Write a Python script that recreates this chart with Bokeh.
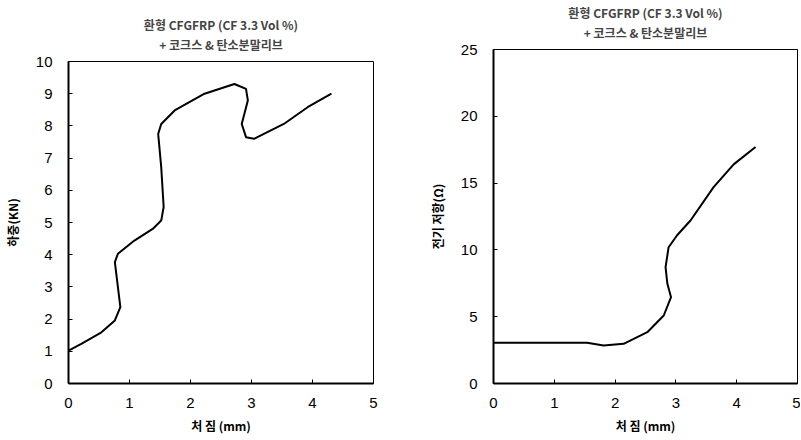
from bokeh.plotting import figure
from bokeh.layouts import row
from bokeh.models import Range1d, SingleIntervalTicker, Title
from bokeh.embed import file_html
from bokeh.resources import INLINE

# Load vs deflection (left)
defl_load = [0.0, 0.21, 0.54, 0.76, 0.85, 0.81, 0.76, 0.81, 1.08, 1.38, 1.52, 1.56,
             1.52, 1.47, 1.52, 1.74, 2.23, 2.72, 2.91, 2.94, 2.84, 2.91, 3.04, 3.53,
             3.92, 4.31]
load_kn = [1.02, 1.23, 1.59, 1.96, 2.37, 2.99, 3.77, 4.03, 4.44, 4.80, 5.06, 5.48,
           6.72, 7.75, 8.06, 8.48, 9.00, 9.30, 9.15, 8.79, 8.06, 7.65, 7.60, 8.06,
           8.58, 9.00]

# Resistance vs deflection (right)
defl_res = [0.0, 1.54, 1.81, 2.14, 2.53, 2.80, 2.92, 2.86, 2.83, 2.88, 3.02, 3.24,
            3.62, 3.95, 4.31]
resist = [3.05, 3.05, 2.84, 2.97, 3.84, 5.09, 6.46, 7.46, 8.71, 10.2, 11.1, 12.2,
          14.7, 16.4, 17.7]

title_line1 = "환형 CFGFRP (CF 3.3 Vol %)"
title_line2 = "+ 코크스 & 탄소분말리브"
x_label = "처 짐 (mm)"
y_label_left = "하중(KN)"
y_label_right = "전기 저항(Ω)"

KFONT = "Noto Sans CJK KR"
NFONT = "Liberation Sans"


def make_fig(ymax, interval, ylabel, width, border_top, border_left, border_right,
             xs, ys, lbl_standoff):
    height = 440
    p = figure(width=width, height=height,
               min_border_left=border_left, min_border_right=border_right,
               min_border_top=border_top, min_border_bottom=57,
               x_range=Range1d(0, 5), y_range=Range1d(0, ymax),
               output_backend="svg", toolbar_location=None,
               frame_align=False)
    p.add_layout(Title(text=title_line2, align="center", text_font=KFONT,
                       text_font_size="12px", text_font_style="bold",
                       standoff=18, offset=0), "above")
    p.add_layout(Title(text=title_line1, align="center", text_font=KFONT,
                       text_font_size="12px", text_font_style="bold",
                       standoff=-16, offset=0), "above")
    p.grid.visible = False
    p.outline_line_color = "black"
    p.outline_line_width = 1
    p.background_fill_color = "white"
    p.border_fill_color = "white"

    p.xaxis.ticker = SingleIntervalTicker(interval=1)
    p.yaxis.ticker = SingleIntervalTicker(interval=interval)
    for ax in (p.xaxis, p.yaxis):
        ax.axis_line_width = 2
        ax.axis_line_color = "black"
        ax.major_tick_in = 4
        ax.major_tick_out = 0
        ax.minor_tick_line_color = None
        ax.major_tick_line_width = 1
        ax.major_label_text_font = NFONT
        ax.major_label_text_font_size = "15px"
        ax.major_label_text_color = "black"
        ax.axis_label_text_font = KFONT
        ax.axis_label_text_font_size = "12px"
        ax.axis_label_text_font_style = "bold"
        ax.axis_label_text_color = "black"
    p.xaxis.axis_label = x_label
    p.yaxis.axis_label = ylabel
    p.xaxis.major_label_standoff = 10
    p.xaxis.axis_label_standoff = 6
    p.yaxis.major_label_standoff = 12
    p.yaxis.axis_label_standoff = lbl_standoff

    p.line(xs, ys, line_color="black", line_width=2)
    return p


p1 = make_fig(10, 1, y_label_left, 410, 61, 67, 37, defl_load, load_kn, 12)
p2 = make_fig(25, 5, y_label_right, 390, 49, 83, 3, defl_res, resist, 12)

layout = row(p1, p2)
open("out.html", "w").write(file_html(layout, INLINE))
